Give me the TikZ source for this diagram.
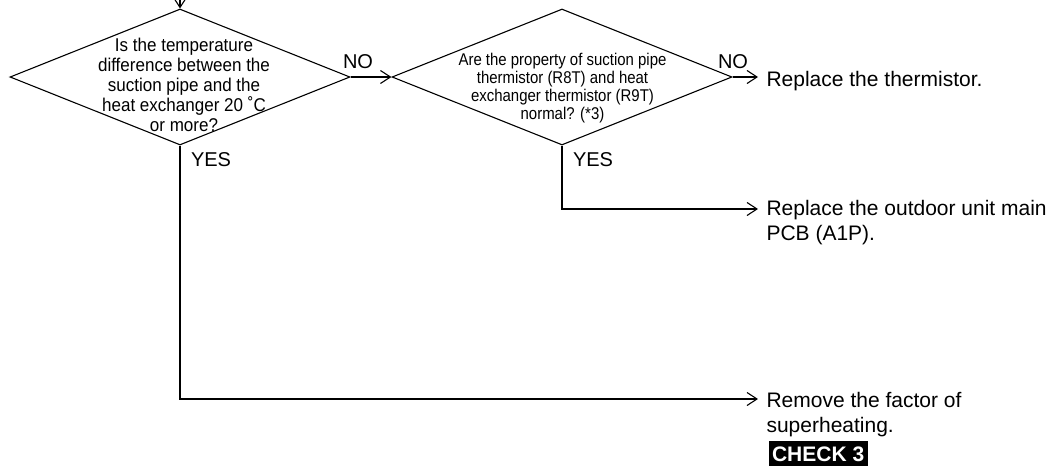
\documentclass[tikz,border=0pt]{standalone}
\usepackage{fontspec}
\setmainfont{Liberation Sans}
\newfontfamily\condA{Liberation Sans}[FakeStretch=0.92]
\newfontfamily\condB{Liberation Sans}[FakeStretch=0.88]
\usetikzlibrary{shapes.geometric,arrows.meta}
\begin{document}
\begin{tikzpicture}[x=1pt,y=-1pt,
  line width=1.1pt,
  dec/.style={diamond, draw, aspect=2.5, minimum width=340pt, minimum height=136pt, inner sep=0pt},
  qtext/.style={anchor=north, align=center, inner sep=0pt},
  lbl/.style={font=\fontsize{20}{24}\selectfont, inner sep=0pt, anchor=base},
  act/.style={font=\fontsize{21}{24.5}\selectfont, inner xsep=8pt, inner ysep=0pt, align=left},
  arr/.style={-{Straight Barb[length=10pt,width=13pt]}},
  chk/.style={fill=black, text=white, font=\bfseries\fontsize{21}{21}\selectfont, inner xsep=3.5pt, inner ysep=5.5pt, text height=15pt, text depth=0pt, anchor=north west}
]
\useasboundingbox (0,0) rectangle (1050,466);

% decisions
\node[dec] (d1) at (180,77) {};
\node[dec] (d2) at (562,77) {};
\node[qtext, font=\condA\fontsize{18.5}{20}\selectfont] (q1) at (184,37.8)
  {Is the temperature\\difference between the\\suction pipe and the\\heat exchanger 20 ˚C\\or more?};
\node[qtext, font=\condB\fontsize{17}{18}\selectfont] (q2) at (562.5,52.5)
  {Are the property of suction pipe\\thermistor (R8T) and heat\\exchanger thermistor (R9T)\\normal? (*3)};

% actions
\node[act, anchor=base west] (r1) at (758,86) {Replace the thermistor.};
\node[act, anchor=north west] (r2) at (758,200) {Replace the outdoor unit main\\PCB (A1P).};
\node[act, anchor=north west] (r3) at (758,392) {Remove the factor of\\superheating.};
\node[chk] (chk) at (768,440) {CHECK 3};

% branch labels
\node[lbl] (no1) at (358,68) {NO};
\node[lbl] (no2) at (733,68) {NO};
\node[lbl, anchor=base west] (yes1) at (190.5,166) {YES};
\node[lbl, anchor=base west] (yes2) at (572.5,166) {YES};

% connectors
\coordinate (start) at (180,0);
\draw[arr] (start) -- (d1.north);
\draw[arr] (d1.east) -- (d2.west);
\draw[arr] (d2.east) -- ([yshift=9pt]r1.base west);
\draw[arr] (d2.south) |- ([yshift=-9pt]r2.north west);
\draw[arr] (d1.south) |- ([yshift=-7pt]r3.north west);
\end{tikzpicture}
\end{document}
